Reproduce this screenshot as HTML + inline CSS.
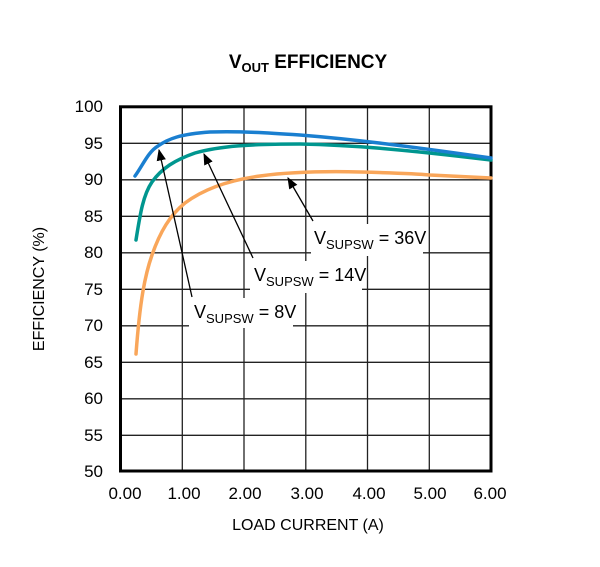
<!DOCTYPE html>
<html><head><style>body{margin:0;background:#fff}svg{display:block}text{font-family:"Liberation Sans",sans-serif}</style></head><body>
<svg width="600" height="567" viewBox="0 0 600 567" xmlns="http://www.w3.org/2000/svg">
<defs><marker id="ah" viewBox="0 0 10 10" refX="9" refY="5" markerWidth="9" markerHeight="9" orient="auto-start-reverse"><path d="M0,1 L10,5 L0,9 z" fill="#000"/></marker></defs>
<text x="308" y="68" text-anchor="middle" font-size="19" font-weight="bold">V<tspan font-size="13" dy="4">OUT</tspan><tspan dy="-4"> EFFICIENCY</tspan></text>
<g stroke="#222" stroke-width="1.3">
<line x1="182.3" y1="106.8" x2="182.3" y2="471"/><line x1="244" y1="106.8" x2="244" y2="471"/><line x1="305.8" y1="106.8" x2="305.8" y2="471"/><line x1="367.5" y1="106.8" x2="367.5" y2="471"/><line x1="429.3" y1="106.8" x2="429.3" y2="471"/>
<line x1="120.5" y1="143.3" x2="491" y2="143.3"/><line x1="120.5" y1="179.8" x2="491" y2="179.8"/><line x1="120.5" y1="216.3" x2="491" y2="216.3"/><line x1="120.5" y1="252.8" x2="491" y2="252.8"/><line x1="120.5" y1="289.3" x2="491" y2="289.3"/><line x1="120.5" y1="325.8" x2="491" y2="325.8"/><line x1="120.5" y1="362.3" x2="491" y2="362.3"/><line x1="120.5" y1="398.8" x2="491" y2="398.8"/><line x1="120.5" y1="435.3" x2="491" y2="435.3"/>
</g>
<rect x="120.5" y="106.8" width="370.5" height="364.2" fill="none" stroke="#000" stroke-width="3"/>
<g fill="none" stroke-width="3.5" stroke-linecap="round">
<path d="M136,354 C140,300 145,275 152,255 C160,232 170,215 185,203 C205,188 230,180 260,176 C290,172 320,171 360,172 C400,173 420,174 430,175 C450,176 470,177 491,178" stroke="#f9a65a"/>
<path d="M136,240 C140,215 143,195 152,182 C162,168 175,160 195,153 C220,146 250,144 300,144 C350,145 400,149 491,160" stroke="#00968f"/>
<path d="M135,176 C143,165 148,152 158,146 C168,139 180,134 210,132 C240,131 270,133 300,135 C350,139 400,145 491,158" stroke="#1a7fd0"/>
</g>
<g stroke="#000" stroke-width="1.3" marker-end="url(#ah)">
<line x1="192" y1="297" x2="159" y2="150"/><line x1="253" y1="258" x2="204" y2="154"/><line x1="313" y1="221" x2="288" y2="178"/>
</g>
<rect x="311" y="224" width="112" height="32" fill="#fff"/>
<rect x="250" y="261" width="112" height="32" fill="#fff"/>
<rect x="189" y="298" width="104" height="30" fill="#fff"/>
<g font-size="18">
<text x="314" y="244">V<tspan font-size="13" dy="5">SUPSW</tspan><tspan dy="-5"> = 36V</tspan></text>
<text x="254" y="281">V<tspan font-size="13" dy="5">SUPSW</tspan><tspan dy="-5"> = 14V</tspan></text>
<text x="194" y="318">V<tspan font-size="13" dy="5">SUPSW</tspan><tspan dy="-5"> = 8V</tspan></text>
</g>
<g font-size="17" text-anchor="end">
<text x="103" y="112">100</text><text x="103" y="149">95</text><text x="103" y="185">90</text><text x="103" y="222">85</text><text x="103" y="258">80</text><text x="103" y="295">75</text><text x="103" y="331">70</text><text x="103" y="368">65</text><text x="103" y="404">60</text><text x="103" y="441">55</text><text x="103" y="477">50</text>
</g>
<g font-size="17" text-anchor="middle">
<text x="125" y="499">0.00</text><text x="184" y="499">1.00</text><text x="245" y="499">2.00</text><text x="307" y="499">3.00</text><text x="369" y="499">4.00</text><text x="430" y="499">5.00</text><text x="490" y="499">6.00</text>
</g>
<text x="308" y="530" font-size="16" text-anchor="middle">LOAD CURRENT  (A)</text>
<text transform="translate(44,289) rotate(-90)" font-size="16" text-anchor="middle">EFFICIENCY (%)</text>
</svg>
</body></html>
